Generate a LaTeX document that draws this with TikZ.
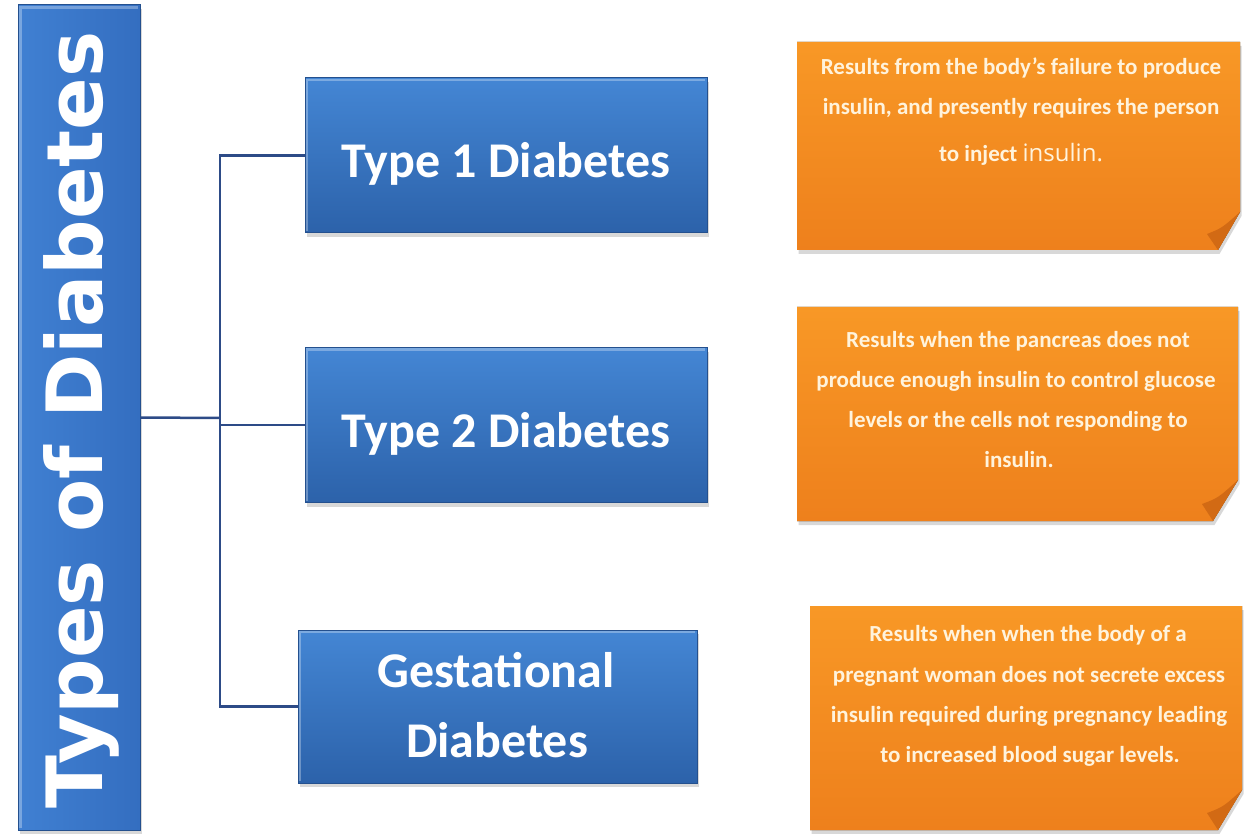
\documentclass[tikz,border=0pt]{standalone}
\usepackage{fontspec}
\setmainfont{Carlito}
\newfontfamily\titlefont{DejaVu Sans}
\newfontfamily\insfont{Open Sans}
\usetikzlibrary{shadows,calc}
\definecolor{bluetop}{RGB}{68,134,212}
\definecolor{bluebot}{RGB}{44,98,170}
\definecolor{titleL}{RGB}{64,128,210}
\definecolor{titleR}{RGB}{52,110,192}
\definecolor{blueedge}{RGB}{36,80,142}
\definecolor{linecol}{RGB}{45,75,135}
\definecolor{orgtop}{RGB}{248,152,38}
\definecolor{orgbot}{RGB}{238,128,28}
\definecolor{orgfold}{RGB}{210,106,20}
\definecolor{cream}{RGB}{255,243,220}
\begin{document}
\begin{tikzpicture}[x=1pt,y=-1pt,
  shad/.style={drop shadow={shadow xshift=1.5pt, shadow yshift=-4pt, opacity=0.3}},
  bluebox/.style={draw=blueedge, line width=1pt, top color=bluetop, bottom color=bluebot, shad,
     minimum width=402pt, minimum height=155pt, inner sep=0pt},
  bigtxt/.style={text=white, font=\bfseries\fontsize{50}{50}\selectfont, anchor=base, inner sep=0pt},
  note/.style={top color=orgtop, bottom color=orgbot, shad},
  notetxt/.style={text=cream, font=\bfseries\fontsize{23}{40}\selectfont, anchor=base, inner sep=0pt},
  conn/.style={draw=linecol, line width=2.5pt}
]
\fill[white] (0,0) rectangle (1245,834);
\useasboundingbox (0,0) rectangle (1245,834);

% title bar
\node[draw=blueedge, line width=1pt, left color=titleL, right color=titleR, shad,
      minimum width=122pt, minimum height=825pt, inner sep=0pt] (title) at (79,417.5) {};
\draw[white, opacity=0.3, line width=3pt] ($(title.south west)+(3pt,3pt)$) -- ($(title.north west)+(3pt,-3pt)$) -- ($(title.north east)+(-3pt,-3pt)$);
\node[rotate=90, anchor=base, text=white, inner sep=0pt,
      font=\titlefont\bfseries\fontsize{77.6}{78}\selectfont] (tt) at (102,420) {Types of Diabetes};

% type boxes
\node[bluebox] (t1) at (506,155.5) {};
\node[bluebox] (t2) at (506,425) {};
\node[bluebox, minimum width=399pt, minimum height=153pt] (t3) at (497.5,706.5) {};
\foreach \b in {t1,t2,t3}{
  \draw[white, opacity=0.3, line width=2.5pt] ($(\b.south west)+(2.5pt,2.5pt)$) -- ($(\b.north west)+(2.5pt,-2.5pt)$) -- ($(\b.north east)+(-2.5pt,-2.5pt)$);
}
\node[bigtxt] (l1) at (506,178) {Type 1 Diabetes};
\node[bigtxt] (l2) at (506,447) {Type 2 Diabetes};
\node[bigtxt] (l3a) at (496,687) {Gestational};
\node[bigtxt] (l3b) at (497,757) {Diabetes};

% connectors
\coordinate (j) at (220,418);
\draw[conn] (title.east) -- (j);
\draw[conn] (t1.west) -| (j) |- (t3.west);
\draw[conn] (j) |- (t2.west);

% note 1
\fill[note] (797,42) -- (1240,42) -- (1240,212) -- (1218,250) -- (797,250) -- cycle;
\fill[orgfold] (1240,212) -- (1218,250) -- (1207,234) .. controls (1222,228) .. cycle;
\node[notetxt] (d1a) at (1021,75) {Results from the body's failure to produce};
\node[notetxt] (d1b) at (1021,115) {insulin, and presently requires the person};
\node[notetxt] (d1c) at (1021,162) {to inject {\insfont\mdseries\fontsize{24}{40}\selectfont insulin.}};

% note 2
\fill[note] (797,307) -- (1238,307) -- (1238,480) -- (1213,521) -- (797,521) -- cycle;
\fill[orgfold] (1238,480) -- (1213,521) -- (1202,504) .. controls (1218,498) .. cycle;
\node[notetxt] (d2a) at (1018,347) {Results when the pancreas does not};
\node[notetxt] (d2b) at (1016,387) {produce enough insulin to control glucose};
\node[notetxt] (d2c) at (1018,427) {levels or the cells not responding to};
\node[notetxt] (d2d) at (1019,467) {insulin.};

% note 3
\fill[note] (810,606) -- (1242,606) -- (1242,790) -- (1218,830) -- (810,830) -- cycle;
\fill[orgfold] (1242,790) -- (1218,830) -- (1207,813) .. controls (1223,807) .. cycle;
\node[notetxt] (d3a) at (1028,641) {Results when when the body of a};
\node[notetxt] (d3b) at (1029,682) {pregnant woman does not secrete excess};
\node[notetxt] (d3c) at (1029,722) {insulin required during pregnancy leading};
\node[notetxt] (d3d) at (1030,762) {to increased blood sugar levels.};
\end{tikzpicture}
\end{document}
